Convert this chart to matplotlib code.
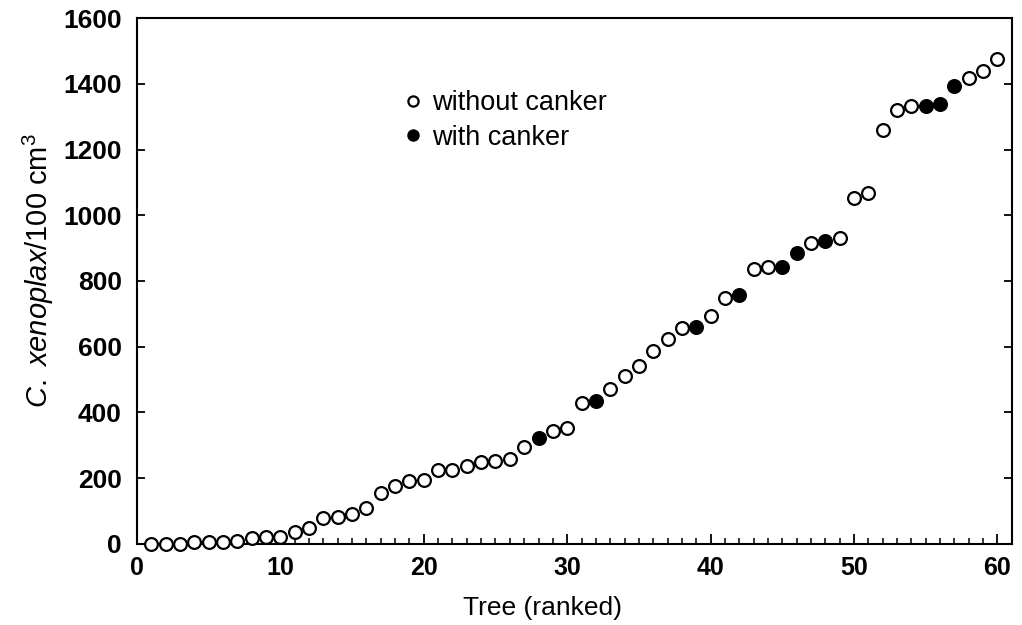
import numpy as np
import matplotlib
matplotlib.use('Agg')
import matplotlib.pyplot as plt
from matplotlib.ticker import MultipleLocator

# ranked trees and nematode counts
tree = list(range(1, 61))
count = [0, 0, 0, 5, 6, 6, 9, 16, 20, 22,
         37, 47, 77, 80, 90, 109, 156, 177, 192, 193,
         224, 225, 237, 250, 252, 257, 296, 322, 344, 352,
         429, 436, 470, 510, 541, 587, 622, 656, 659, 693,
         749, 757, 837, 841, 841, 885, 916, 921, 932, 1053,
         1069, 1258, 1321, 1331, 1333, 1340, 1392, 1417, 1438, 1475]
# trees that had a canker (filled symbols)
canker_trees = [28, 32, 39, 42, 45, 46, 48, 55, 56, 57]

x_ticks = [0, 10, 20, 30, 40, 50, 60]
y_ticks = [0, 200, 400, 600, 800, 1000, 1200, 1400, 1600]

plt.rcParams['font.family'] = ['Liberation Sans', 'DejaVu Sans']
plt.rcParams['mathtext.fontset'] = 'custom'
plt.rcParams['mathtext.rm'] = 'Liberation Sans'
plt.rcParams['mathtext.it'] = 'Liberation Sans:italic'

tree = np.array(tree)
count = np.array(count)
has_canker = np.isin(tree, canker_trees)

fig = plt.figure(figsize=(10.22, 6.25), dpi=100)
ax = fig.add_axes([0.134, 0.130, 0.856, 0.841])

ax.plot(tree[~has_canker], count[~has_canker], 'o', ls='none', ms=9.2,
        mfc='white', mec='black', mew=1.6, clip_on=False, zorder=3,
        label='without canker')
ax.plot(tree[has_canker], count[has_canker], 'o', ls='none', ms=9.2,
        mfc='black', mec='black', mew=1.6, clip_on=False, zorder=3,
        label='with canker')

ax.set_xlim(0, 61)
ax.set_ylim(0, 1600)
ax.set_xticks(x_ticks)
ax.set_yticks(y_ticks)
ax.xaxis.set_minor_locator(MultipleLocator(1))

ax.tick_params(axis='x', which='major', direction='in', length=7, width=1.3,
               top=False, pad=9, labelsize=18)
ax.tick_params(axis='x', which='minor', direction='in', length=4, width=1.1,
               top=False)
ax.tick_params(axis='y', which='major', direction='in', length=6, width=1.3,
               right=True, pad=11, labelsize=19)
for lab in ax.get_xticklabels() + ax.get_yticklabels():
    lab.set_fontweight('bold')

for sp in ax.spines.values():
    sp.set_linewidth(1.5)

ax.set_xlabel('Tree (ranked)', fontsize=19)
ax.xaxis.set_label_coords(0.464, -0.1)
ax.set_ylabel(r'$\mathit{C.}$ $\mathit{xenoplax}$/100 cm$^{3}$', fontsize=21)
ax.yaxis.set_label_coords(-0.092, 0.52)

leg = ax.legend(loc='upper left', bbox_to_anchor=(0.294, 0.883), frameon=False,
                fontsize=19.5, markerscale=0.8, handlelength=0.6,
                handletextpad=0.4, labelspacing=0.3, borderaxespad=0)

fig.savefig('out.png', dpi=100)
